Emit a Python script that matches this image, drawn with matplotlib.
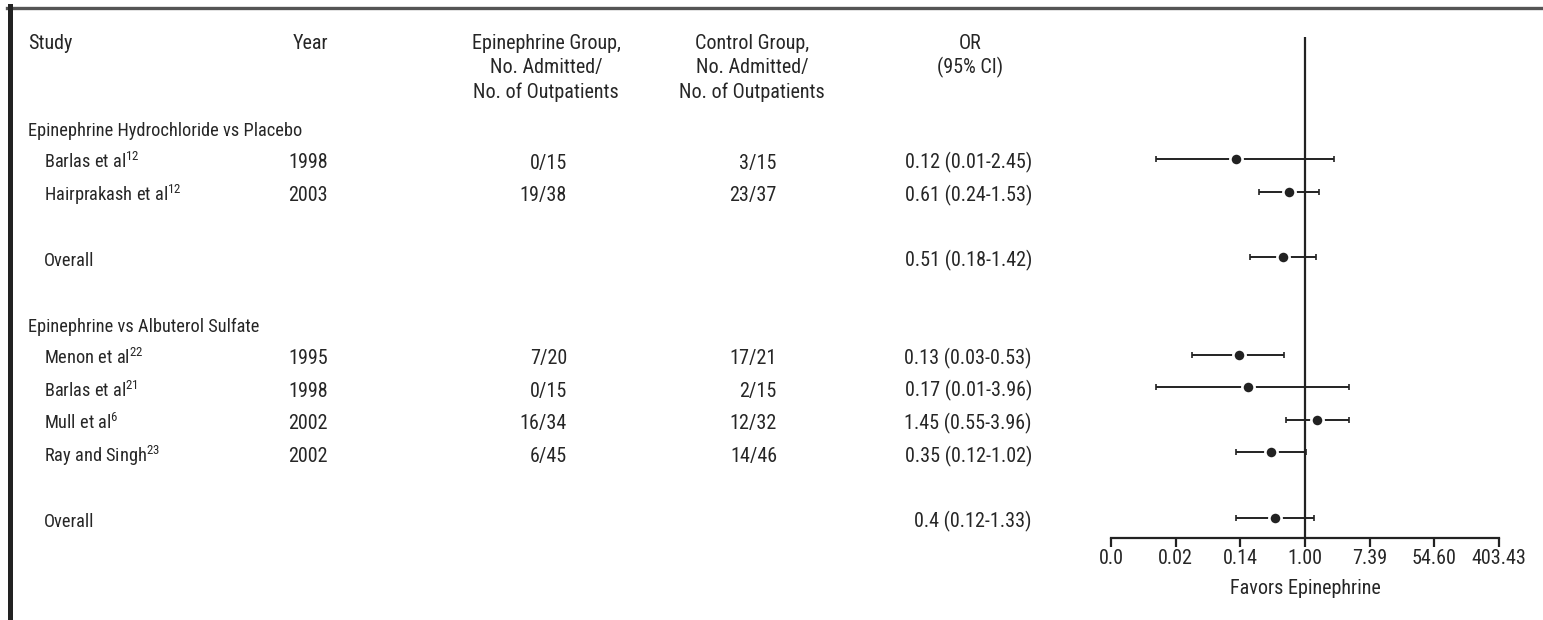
import numpy as np
import matplotlib
matplotlib.use("Agg")
import matplotlib.pyplot as plt
from matplotlib import font_manager as fm
from matplotlib.lines import Line2D

# ---------------- data ----------------
group_titles = ["Epinephrine Hydrochloride vs Placebo", "Epinephrine vs Albuterol Sulfate"]
study_names = ["Barlas et al", "Hairprakash et al", "Menon et al", "Barlas et al", "Mull et al", "Ray and Singh"]
study_refs = ["12", "12", "22", "21", "6", "23"]
study_group = [0, 0, 1, 1, 1, 1]
years = [1998, 2003, 1995, 1998, 2002, 2002]
epi_admitted = [0, 19, 7, 0, 16, 6]
epi_total = [15, 38, 20, 15, 34, 45]
ctl_admitted = [3, 23, 17, 2, 12, 14]
ctl_total = [15, 37, 21, 15, 32, 46]
odds_ratio = [0.12, 0.61, 0.13, 0.17, 1.45, 0.35]
ci_low = [0.01, 0.24, 0.03, 0.01, 0.55, 0.12]
ci_high = [2.45, 1.53, 0.53, 3.96, 3.96, 1.02]
overall_or = [0.51, 0.4]
overall_low = [0.18, 0.12]
overall_high = [1.42, 1.33]
tick_logs = [-6, -4, -2, 0, 2, 4, 6]
tick_labels = ["0.0", "0.02", "0.14", "1.00", "7.39", "54.60", "403.43"]
col_headers = [["Study"], ["Year"],
               ["Epinephrine Group,", "No. Admitted/", "No. of Outpatients"],
               ["Control Group,", "No. Admitted/", "No. of Outpatients"],
               ["OR", "(95% CI)"]]
axis_label = "Favors Epinephrine"

# ---------------- fonts ----------------
avail = {f.name for f in fm.fontManager.ttflist}
fam = [f for f in ["Roboto Condensed", "Liberation Sans Narrow", "Open Sans Condensed", "Liberation Sans", "DejaVu Sans"] if f in avail]
plt.rcParams["font.family"] = fam
plt.rcParams["mathtext.fontset"] = "custom"
plt.rcParams["mathtext.rm"] = fam[0]
plt.rcParams["mathtext.it"] = fam[0]
plt.rcParams["mathtext.bf"] = fam[0]
FS = 14.5
FS_L = 13.2
TC = "#262626"
LC = "#222222"

W, H = 1543, 620
fig = plt.figure(figsize=(W / 100, H / 100), dpi=100)
fig.patch.set_facecolor("white")

# text layer in pixel coordinates
ax_t = fig.add_axes([0, 0, 1, 1])
ax_t.set_xlim(0, W)
ax_t.set_ylim(H, 0)
ax_t.axis("off")

# ---------------- layout ----------------
def row_y(slot):
    return 126.4 + 32.6 * slot

TXT_OFF = 9.5  # baseline below row centre
x_study, x_indent, x_year_r = 28, 44, 328
x_epi_r, x_ctl_r, x_or_r = 567, 777, 1032
hdr_x = [(28, "left"), (328, "right"), (546, "center"), (752, "center"), (970, "center")]
hdr_base = [49, 73.5, 97.5]

for (hx, ha), lines in zip(hdr_x, col_headers):
    for i, line in enumerate(lines):
        ax_t.text(hx, hdr_base[i], line, ha=ha, va="baseline", fontsize=FS, color=TC)

group_title_slot = [0, 6]
group_overall_slot = [4, 12]
study_slots = [1, 2, 7, 8, 9, 10]

def fmt_or(v, lo, hi):
    return f"{v:g} ({lo:g}-{hi:g})"

for g, title in enumerate(group_titles):
    ax_t.text(x_study, row_y(group_title_slot[g]) + TXT_OFF, title, ha="left", va="baseline",
              fontsize=FS_L, color=TC)
    ax_t.text(x_indent, row_y(group_overall_slot[g]) + TXT_OFF, "Overall", ha="left", va="baseline",
              fontsize=FS_L, color=TC)
    ax_t.text(x_or_r, row_y(group_overall_slot[g]) + TXT_OFF,
              fmt_or(overall_or[g], overall_low[g], overall_high[g]),
              ha="right", va="baseline", fontsize=FS, color=TC)

for i in range(len(study_names)):
    yb = row_y(study_slots[i]) + TXT_OFF
    ax_t.text(x_indent, yb, study_names[i] + "$^{" + study_refs[i] + "}$", ha="left", va="baseline",
              fontsize=FS_L, color=TC)
    ax_t.text(x_year_r, yb, str(years[i]), ha="right", va="baseline", fontsize=FS, color=TC)
    ax_t.text(x_epi_r, yb, f"{epi_admitted[i]}/{epi_total[i]}", ha="right", va="baseline", fontsize=FS, color=TC)
    ax_t.text(x_ctl_r, yb, f"{ctl_admitted[i]}/{ctl_total[i]}", ha="right", va="baseline", fontsize=FS, color=TC)
    ax_t.text(x_or_r, yb, fmt_or(odds_ratio[i], ci_low[i], ci_high[i]), ha="right", va="baseline",
              fontsize=FS, color=TC)

# ---------------- forest axes ----------------
fx0, fx1 = 1111, 1499
fy_top, fy_bot = 37, 538
ax_f = fig.add_axes([fx0 / W, (H - fy_bot) / H, (fx1 - fx0) / W, (fy_bot - fy_top) / H])
ax_f.patch.set_alpha(0)
ax_f.set_xscale("log")
ax_f.set_xlim(np.exp(tick_logs[0]), np.exp(tick_logs[-1]))
ax_f.set_ylim(fy_bot, fy_top)
for s in ["top", "right", "left"]:
    ax_f.spines[s].set_visible(False)
ax_f.spines["bottom"].set_linewidth(1.6)
ax_f.spines["bottom"].set_color(LC)
ax_f.set_yticks([])
ax_f.set_xticks(np.exp(tick_logs))
ax_f.set_xticklabels(tick_labels)
ax_f.xaxis.set_minor_locator(matplotlib.ticker.NullLocator())
ax_f.tick_params(axis="x", direction="out", length=6.5, width=1.6, color=LC,
                 labelsize=FS, labelcolor=TC, pad=1.5)
ax_f.axvline(1.0, color=LC, lw=1.6, zorder=1)

def draw_ci(ax, est, lo, hi, y):
    ax.errorbar([est], [y], xerr=[[est - lo], [hi - est]], fmt="none", ecolor=LC,
                elinewidth=1.4, capsize=2.2, capthick=1.2, zorder=2)
    ax.plot([est], [y], "o", ms=8.8, color=LC, mec="white", mew=1.9, zorder=3)

for i in range(len(study_names)):
    draw_ci(ax_f, odds_ratio[i], ci_low[i], ci_high[i], row_y(study_slots[i]))
for g in range(len(group_titles)):
    draw_ci(ax_f, overall_or[g], overall_low[g], overall_high[g], row_y(group_overall_slot[g]))

ax_t.text((fx0 + fx1) / 2 + 0, 594, axis_label, ha="center", va="baseline", fontsize=FS, color=TC)

# ---------------- frame ----------------
fig.add_artist(Line2D([7 / W, 1.0], [1 - 8 / H, 1 - 8 / H], color="#555555", lw=2.4,
                      transform=fig.transFigure))
fig.add_artist(Line2D([10 / W, 10 / W], [0, 1 - 6 / H], color="#222222", lw=3.6,
                      transform=fig.transFigure))

fig.savefig("out.png", dpi=100, facecolor="white")
